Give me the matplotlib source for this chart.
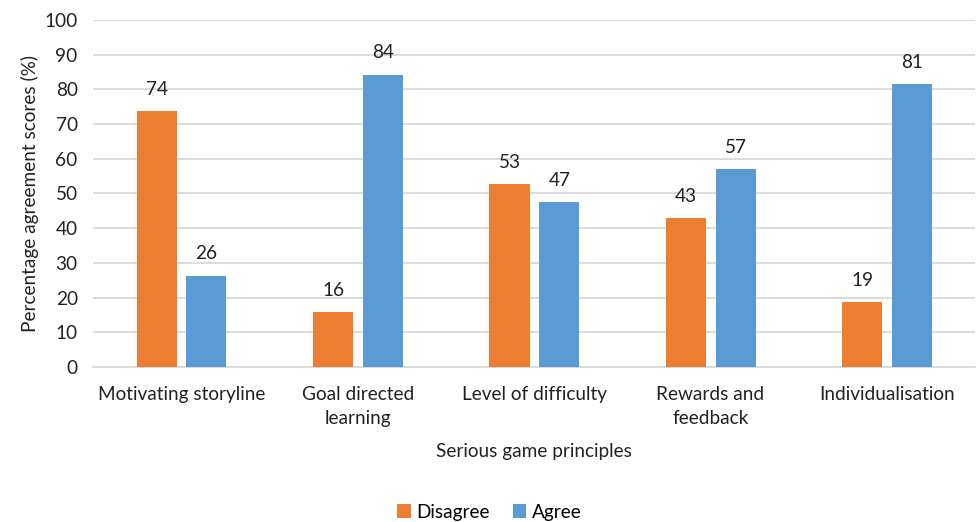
import matplotlib
matplotlib.use("Agg")
import matplotlib.pyplot as plt
import numpy as np

categories = ["Motivating storyline", "Goal directed\nlearning", "Level of difficulty",
              "Rewards and\nfeedback", "Individualisation"]
disagree = [73.7, 15.8, 52.6, 42.9, 18.6]
agree = [26.3, 84.2, 47.4, 57.1, 81.4]

plt.rcParams['font.family'] = ['Lato', 'DejaVu Sans']
plt.rcParams['font.size'] = 13.7

fig = plt.figure(figsize=(9.79, 5.22), dpi=100)
ax = fig.add_axes([0.095, 0.297, 0.901, 0.665])

x = np.arange(len(categories))
w = 0.227
b1 = ax.bar(x - 0.139, disagree, w, color="#ed7d31", label="Disagree", zorder=3)
b2 = ax.bar(x + 0.143, agree, w, color="#5b9bd5", label="Agree", zorder=3)

for bars in (b1, b2):
    for r in bars:
        ax.text(r.get_x() + r.get_width() / 2, r.get_height() + 3.8, "%.0f" % r.get_height(),
                ha="center", va="bottom", color="#222222")

ax.set_xlim(-0.5, len(categories) - 0.5)
ax.set_ylim(0, 100)
ax.set_yticks(range(0, 101, 10))
ax.set_xticks(x)
ax.set_xticklabels(categories, linespacing=1.45)
ax.tick_params(axis="both", length=0, colors="#222222")
ax.tick_params(axis="x", pad=14)
ax.tick_params(axis="y", pad=11)
ax.grid(axis="y", color="#d9d9d9", linewidth=1.3, zorder=0)
for s in ["top", "right", "left"]:
    ax.spines[s].set_visible(False)
ax.spines["bottom"].set_color("#d9d9d9")
ax.spines["bottom"].set_linewidth(1.3)

ax.set_ylabel("Percentage agreement scores (%)", color="#222222", labelpad=4)
ax.set_xlabel("Serious game principles", color="#222222", labelpad=12)

fig.legend(loc="lower center", bbox_to_anchor=(0.5, -0.03), ncol=2, frameon=False,
           handlelength=0.7, handleheight=0.7, handletextpad=0.3, columnspacing=1.2)

fig.savefig("out.png", dpi=100)
